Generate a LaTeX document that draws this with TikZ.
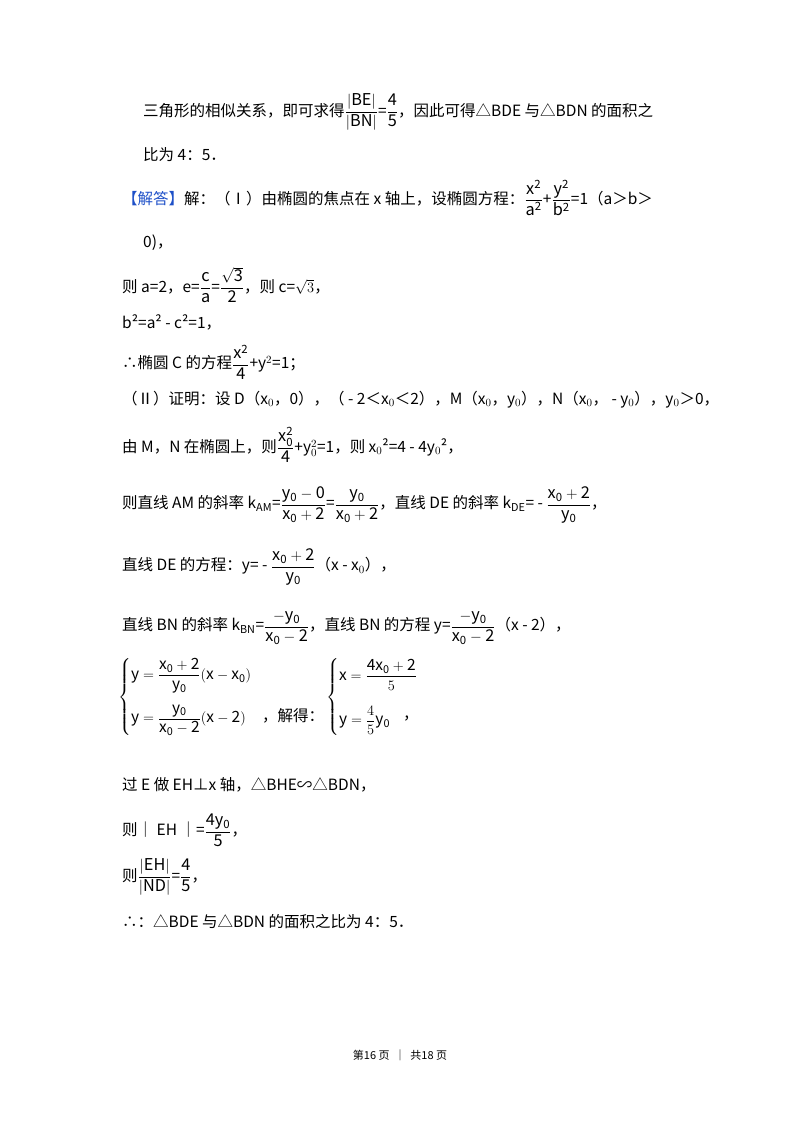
\documentclass[tikz,border=0pt]{standalone}
\usepackage{amsmath}
\usepackage{graphicx}
\usepackage{fontspec}
\setmainfont{Noto Sans CJK SC}
\tikzset{ln/.style={anchor=west,inner sep=0pt,font=\fontsize{15.5}{18}\selectfont}}
\newcommand{\fr}[2]{\scalebox{1.05}{$\dfrac{\mathrm{#1}}{\mathrm{#2}}$}}
\begin{document}
\begin{tikzpicture}[x=1pt,y=-1pt]
\useasboundingbox (0,0) rectangle (800,1132);
\node[ln] (l1) at (143,112) {三角形的相似关系，即可求得\fr{|BE|}{|BN|}=\fr{4}{5}，因此可得△BDE 与△BDN 的面积之};
\node[ln] (l2) at (143,155) {比为 4：5．};
\node[ln] (l3) at (122,198) {\textcolor[RGB]{30,80,200}{【解答】}解：（Ⅰ）由椭圆的焦点在 x 轴上，设椭圆方程：\fr{x^2}{a^2}+\fr{y^2}{b^2}=1（a＞b＞};
\node[ln] (l4) at (143,243) {0)，};
\node[ln] (l5) at (122,285) {则 a=2，e=\fr{c}{a}=\fr{\sqrt{3}}{2}，则 c=$\sqrt{3}$，};
\node[ln] (l6) at (122,322) {b²=a² - c²=1，};
\node[ln] (l7) at (122,362) {∴椭圆 C 的方程\fr{x^2}{4}+y$^2$=1；};
\node[ln] (l8) at (122,400) {（Ⅱ）证明：设 D（x$_0$，0），（ - 2＜x$_0$＜2），M（x$_0$，y$_0$），N（x$_0$， - y$_0$），y$_0$＞0，};
\node[ln] (l9) at (122,445) {由 M，N 在椭圆上，则\fr{x_0^2}{4}+y$_0^2$=1，则 x$_0$²=4 - 4y$_0$²，};
\node[ln] (l10) at (122,505) {则直线 AM 的斜率 k$_{\mathrm{AM}}$=\fr{y_0-0}{x_0+2}=\fr{y_0}{x_0+2}，直线 DE 的斜率 k$_{\mathrm{DE}}$= - \fr{x_0+2}{y_0}，};
\node[ln] (l11) at (122,567) {直线 DE 的方程：y= - \fr{x_0+2}{y_0}（x - x$_0$），};
\node[ln] (l12) at (122,628) {直线 BN 的斜率 k$_{\mathrm{BN}}$=\fr{-y_0}{x_0-2}，直线 BN 的方程 y=\fr{-y_0}{x_0-2}（x - 2），};
\node[ln] (l13) at (118,697) {$\left\{\begin{array}{@{}l@{}}\mathrm{y}=\dfrac{\mathrm{x_0+2}}{\mathrm{y_0}}(\mathrm{x-x_0})\\[20pt]\mathrm{y}=\dfrac{\mathrm{y_0}}{\mathrm{x_0-2}}(\mathrm{x-2})\end{array}\right.$};
\node[ln] (l14) at (262,716) {，解得：};
\node[ln] (l15) at (326,697) {$\left\{\begin{array}{@{}l@{}}\mathrm{x}=\dfrac{\mathrm{4x_0+2}}{5}\\[20pt]\mathrm{y}=\dfrac{4}{5}\mathrm{y_0}\end{array}\right.$};
\node[ln] (l16) at (403,718) {，};
\node[ln] (l17) at (122,785) {过 E 做 EH⊥x 轴，△BHE∽△BDN，};
\node[ln] (l18) at (122,830) {则｜ EH ｜=\fr{4y_0}{5}，};
\node[ln] (l19) at (122,877) {则\fr{|EH|}{|ND|}=\fr{4}{5}，};
\node[ln] (l20) at (122,922) {∴：△BDE 与△BDN 的面积之比为 4：5．};
\node[inner sep=0pt,font=\fontsize{11}{13}\selectfont] (ft) at (400,1055) {第16 页 \ ｜ \ 共18 页};
\end{tikzpicture}
\end{document}
